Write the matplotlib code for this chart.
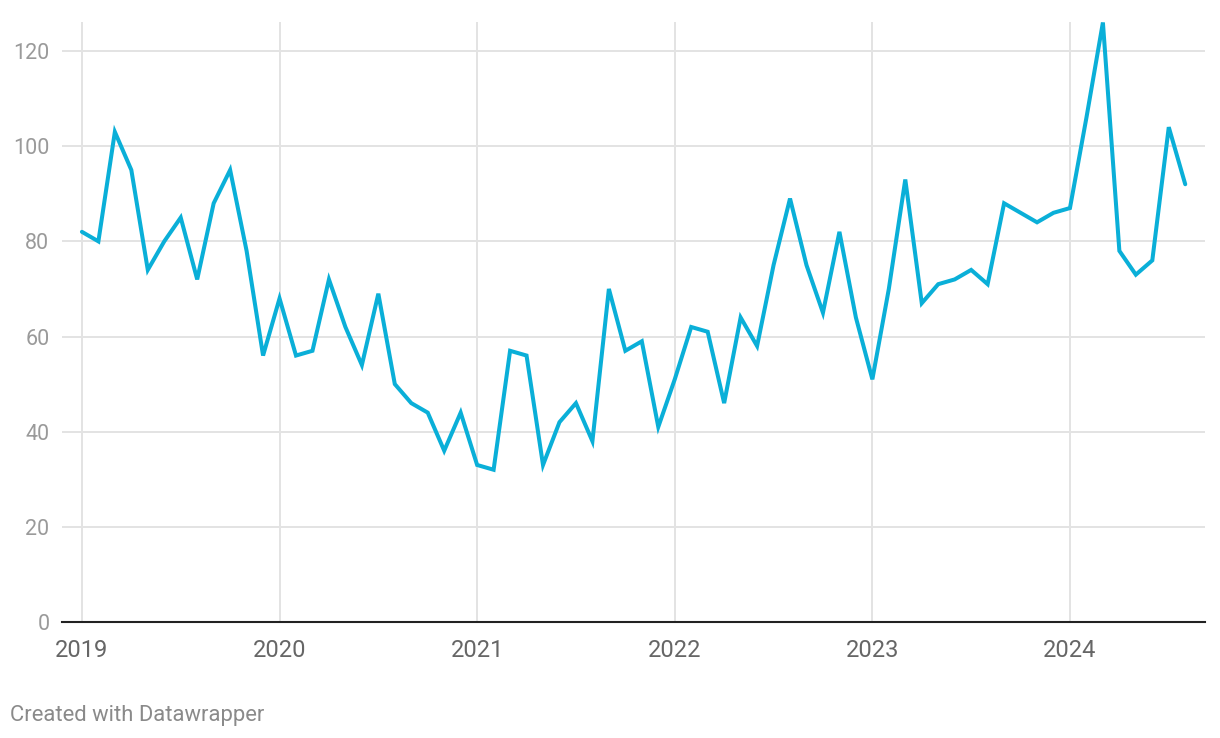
import matplotlib.pyplot as plt
import numpy as np

# monthly values, Jan 2019 .. Aug 2024
values = [
    82, 80, 103, 95, 74, 80, 85, 72, 88, 95, 78, 56,   # 2019
    68, 56, 57, 72, 62, 54, 69, 50, 46, 44, 36, 44,    # 2020
    33, 32, 57, 56, 33, 42, 46, 38, 70, 57, 59, 41,    # 2021
    51, 62, 61, 46, 64, 58, 75, 89, 75, 65, 82, 64,    # 2022
    51, 70, 93, 67, 71, 72, 74, 71, 88, 86, 84, 86,    # 2023
    87, 106, 126, 78, 73, 76, 104, 92,                 # 2024
]
year_labels = ["2019", "2020", "2021", "2022", "2023", "2024"]
y_ticks = [0, 20, 40, 60, 80, 100, 120]

LINE = "#0aafd8"
GRID = "#e3e3e3"

plt.rcParams["font.family"] = ["Roboto", "DejaVu Sans"]

months = np.arange(len(values))
year_pos = np.arange(len(year_labels)) * 12

fig = plt.figure(figsize=(12.2, 7.38), dpi=100)
ax = fig.add_axes([62 / 1220, 1 - 622 / 738, (1205 - 62) / 1220, (622 - 22) / 738])

ax.plot(months, values, color=LINE, lw=2.9, solid_joinstyle="miter",
        solid_capstyle="round", clip_on=False, zorder=3)

ax.set_xlim(-1.21, 68.2)
ax.set_ylim(0, 126.1)

ax.set_xticks(year_pos)
ax.set_xticklabels(year_labels)
ax.set_yticks(y_ticks)
ax.set_yticklabels([str(t) for t in y_ticks])

for t in y_ticks[1:]:
    ax.axhline(t, color=GRID, lw=1.4, zorder=1)
for p in year_pos:
    ax.axvline(p, color=GRID, lw=1.4, zorder=1)

for s in ["top", "right", "left"]:
    ax.spines[s].set_visible(False)
ax.spines["bottom"].set_color("#222222")
ax.spines["bottom"].set_linewidth(1.5)
ax.spines["bottom"].set_zorder(4)

ax.tick_params(axis="x", length=0, pad=12, labelsize=17, labelcolor="#666666")
ax.tick_params(axis="y", length=0, pad=9, labelsize=15.5, labelcolor="#9a9a9a")

fig.text(10 / 1220, 1 - 715 / 738, "Created with Datawrapper", fontsize=15.8,
         color="#8a8a8a", va="center", ha="left")

fig.savefig("out.png", dpi=100)
